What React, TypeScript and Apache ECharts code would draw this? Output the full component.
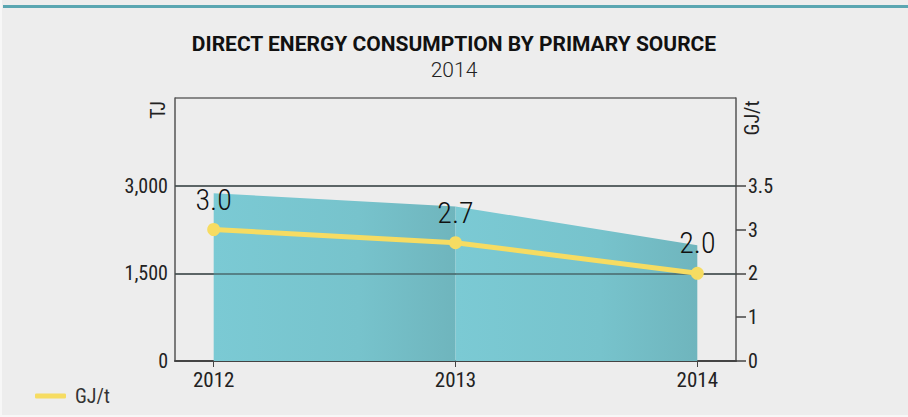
import React, { useEffect, useRef } from "react";
import * as echarts from "echarts";

const years = [2012, 2013, 2014];
const consumptionTJ = [2870, 2645, 1980];
const intensityGJt = [3.0, 2.7, 2.0];
const leftTicks = [0, 1500, 3000];
const rightTickValues = [0, 1, 2, 3, 4];
const rightTickLabels = ["0", "1", "2", "3", "3.5"];
const title = "DIRECT ENERGY CONSUMPTION BY PRIMARY SOURCE";
const subtitle = "2014";

const FONT = "'Roboto Condensed', 'Liberation Sans Narrow', 'DejaVu Sans Condensed', Roboto, sans-serif";
const TITLE_FONT = "Roboto, 'Liberation Sans', sans-serif";

export default function App() {
  const ref = useRef<HTMLDivElement>(null);
  useEffect(() => {
    if (!ref.current) return;
    const chart = echarts.init(ref.current, undefined, { renderer: "svg" });
    const seg = (i: number) => ({
      type: "line",
      xAxisIndex: 0,
      yAxisIndex: 0,
      symbol: "none",
      lineStyle: { width: 0 },
      silent: true,
      z: 1,
      areaStyle: {
        opacity: 1,
        color: new echarts.graphic.LinearGradient(0, 0, 1, 0, [
          { offset: 0, color: "#7bcad4" },
          { offset: 0.6, color: "#77c3cc" },
          { offset: 1, color: "#6fb5bd" },
        ]),
      },
      data: [
        [years[i], consumptionTJ[i]],
        [years[i + 1], consumptionTJ[i + 1]],
      ],
    });
    chart.setOption({
      animation: false,
      backgroundColor: "#ededed",
      textStyle: { fontFamily: FONT },
      title: {
        text: title,
        subtext: subtitle,
        left: "center",
        top: 28,
        itemGap: 5,
        textStyle: { fontFamily: TITLE_FONT, fontWeight: "bold", fontSize: 21, color: "#111" },
        subtextStyle: { fontFamily: TITLE_FONT, fontSize: 21, color: "#222", fontWeight: 300 },
      },
      legend: {
        left: 30,
        top: 381,
        icon: "roundRect",
        itemWidth: 31,
        itemHeight: 5,
        itemGap: 10,
        textStyle: { fontFamily: FONT, fontSize: 20, color: "#333", padding: [0, 0, 0, 4] },
        data: ["GJ/t"],
      },
      grid: { left: 175, right: 172, top: 98, bottom: 56, containLabel: false },
      xAxis: {
        type: "value",
        min: 2011.84,
        max: 2014.16,
        splitLine: { show: false },
        axisLine: { show: true, lineStyle: { color: "#444", width: 2 } },
        axisTick: { show: true, customValues: years, length: 6, lineStyle: { color: "#444", width: 1 } },
        axisLabel: {
          customValues: years,
          formatter: (v: number) => String(Math.round(v)),
          fontSize: 21,
          color: "#222",
          margin: 8,
          fontFamily: FONT,
        },
      },
      yAxis: [
        {
          type: "value",
          min: 0,
          max: 4500,
          interval: 1500,
          position: "left",
          axisLine: { show: true, lineStyle: { color: "#555", width: 1.5 } },
          axisTick: { show: false },
          splitLine: { show: true, lineStyle: { color: "#666", width: 1.5 } },
          axisLabel: {
            showMaxLabel: false,
            fontSize: 20,
            color: "#222",
            margin: 7,
            fontFamily: FONT,
            formatter: (v: number) => (leftTicks.includes(v) ? v.toLocaleString("en-US") : ""),
          },
        },
        {
          type: "value",
          min: 0,
          max: 6,
          interval: 1,
          position: "right",
          axisLine: { show: true, lineStyle: { color: "#555", width: 1.5 } },
          axisTick: { show: true, inside: false, length: 10, customValues: rightTickValues, lineStyle: { color: "#444", width: 1.5 } },
          splitLine: { show: false },
          axisLabel: {
            customValues: rightTickValues,
            formatter: (v: number) => rightTickLabels[rightTickValues.indexOf(v)] ?? "",
            fontSize: 20,
            color: "#222",
            margin: 12,
            fontFamily: FONT,
          },
        },
      ],
      graphic: [
        { type: "rect", left: 3, top: 5, shape: { width: 905, height: 3 }, style: { fill: "#5aa6b1" } },
        { type: "rect", left: 0, top: 415, shape: { width: 908, height: 2 }, style: { fill: "#f7f7f7" } },
        { type: "rect", left: 0, top: 0, shape: { width: 2, height: 417 }, style: { fill: "#f7f7f7" } },
        {
          type: "text",
          x: 158,
          y: 110,
          rotation: Math.PI / 2,
          style: { text: "TJ", fontSize: 20, fill: "#222", fontFamily: FONT, align: "center", verticalAlign: "middle" },
        },
        {
          type: "text",
          x: 752,
          y: 118,
          rotation: Math.PI / 2,
          style: { text: "GJ/t", fontSize: 20, fill: "#222", fontFamily: FONT, align: "center", verticalAlign: "middle" },
        },
      ],
      series: [
        {
          ...seg(0),
          name: "area1",
          markLine: {
            silent: true,
            symbol: "none",
            label: { show: false },
            lineStyle: { color: "#3a4a4c", width: 1.5, type: "solid", opacity: 0.75 },
            data: leftTicks.filter((v) => v > 0).map((v) => ({ yAxis: v })),
            z: 3,
          },
        },
        { ...seg(1), name: "area2" },
        {
          name: "GJ/t",
          type: "line",
          yAxisIndex: 1,
          z: 5,
          color: "#f6dc62",
          symbol: "circle",
          symbolSize: 13,
          lineStyle: { width: 5, color: "#f6dc62" },
          itemStyle: { color: "#f6dc62" },
          label: {
            show: true,
            position: "top",
            distance: 9,
            fontSize: 30,
            color: "#111",
            fontFamily: FONT,
            fontWeight: 300,
            formatter: (p: any) => Number(p.value[1]).toFixed(1),
          },
          data: years.map((y, i) => [y, intensityGJt[i]]),
        },
      ],
    });
    return () => chart.dispose();
  }, []);
  return (
    <div
      ref={ref}
      style={{ position: "fixed", left: 0, top: 0, width: 908, height: 417 }}
    />
  );
}
